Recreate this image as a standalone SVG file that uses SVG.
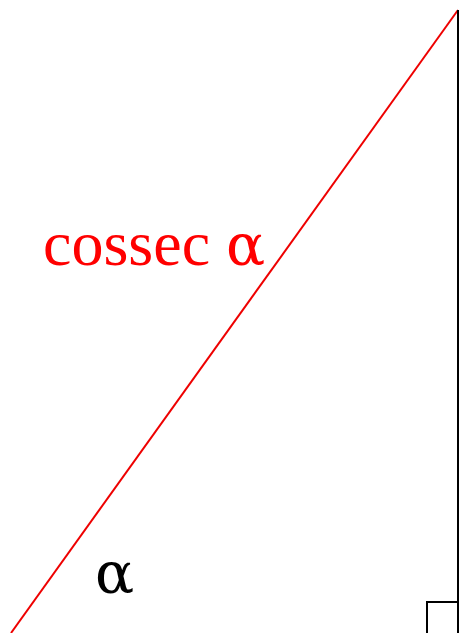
<svg xmlns="http://www.w3.org/2000/svg" width="459" height="633" viewBox="0 0 459 633">
<rect width="459" height="633" fill="#fff"/>
<g id="connectors">
<line x1="11" y1="633" x2="458" y2="10" stroke="#e00" stroke-width="2"/>
<line x1="458" y1="10" x2="458" y2="633" stroke="#000" stroke-width="2"/>
<polyline points="427,633 427,602 458,602" fill="none" stroke="#000" stroke-width="2"/>
</g>
<g id="hyp-label"><text x="43" y="265" fill="#f00" font-family="Liberation Serif, serif" font-size="64">cossec <tspan font-family="DejaVu Serif, serif" font-size="58">α</tspan></text></g>
<g id="angle-label"><text x="95" y="593" fill="#000" font-family="DejaVu Serif, serif" font-size="58">α</text></g>
</svg>
